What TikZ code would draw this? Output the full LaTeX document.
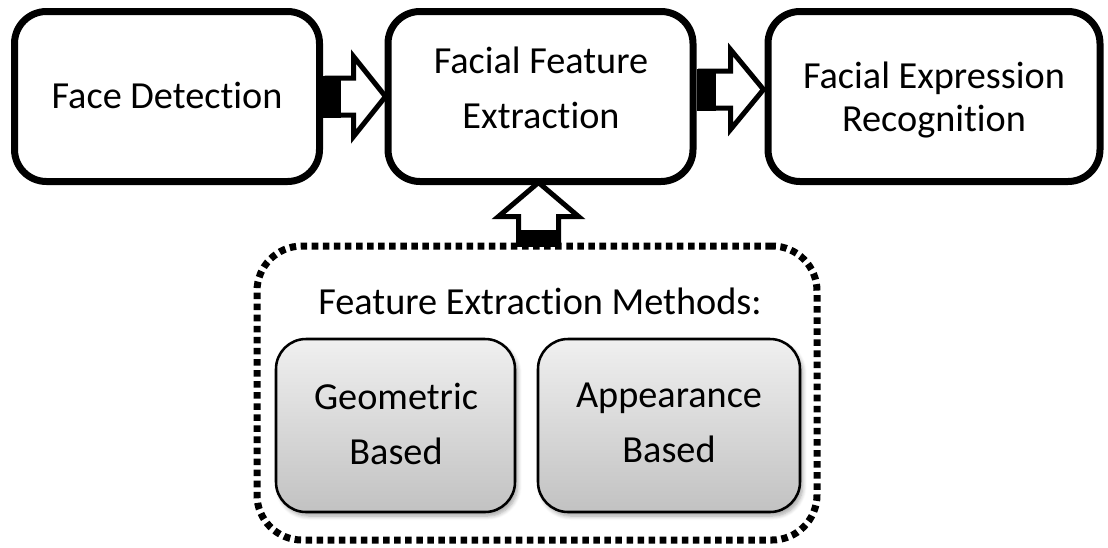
\documentclass[tikz,border=0pt]{standalone}
\usepackage{fontspec}
\setmainfont[Ligatures=NoCommon]{Carlito}
\usetikzlibrary{calc,shadows.blur}
% keep "t" and "i" as separate glyphs
\newcommand\tsep{t\kern0pt{}i}

\begin{document}
\begin{tikzpicture}[x=0.75pt,y=-0.75pt,
  stage/.style={draw=black, line width=5.25pt, rounded corners=24pt,
    fill=white, inner sep=0pt, minimum height=127.5pt},
  method/.style={draw=black, line width=1.9pt, rounded corners=22.5pt,
    top color=gray!12, bottom color=gray!48, inner sep=0pt,
    minimum height=129.75pt,
    blur shadow={shadow xshift=2pt, shadow yshift=-3pt,
      shadow blur steps=6, shadow opacity=35, shadow blur radius=3pt}},
  group/.style={draw=black, line width=5.25pt, rounded corners=33.75pt,
    dash pattern=on 4.9pt off 3.4pt, inner sep=0pt,
    minimum width=420pt, minimum height=220.5pt},
  lbl/.style={align=center, inner sep=0pt,
    font=\fontsize{28.7}{41.25}\selectfont},
  blockarrow/.style={draw=black, fill=white, line width=3.75pt, miter limit=10},
  stub/.style={fill=black}
]
\useasboundingbox (0,0) rectangle (1108,547);

% main pipeline
\node[stage, minimum width=228.75pt] (fd)  at (167,96.5) {};
\node[stage, minimum width=228.75pt] (ffe) at (540.5,96.5) {};
\node[stage, minimum width=249pt]    (fer) at (934,96.5) {};

\node[lbl] (tfd)  at (167,95) {Face Detec\tsep on};
\node[lbl] (tffe) at (541,88) {Facial Feature\\Extrac\tsep on};
\node[lbl, font=\fontsize{28.7}{32.25}\selectfont] (tfer) at (934,100) {Facial Expression\\Recogni\tsep on};

% group of extraction methods
\node[group] (fem) at (537,393) {};
\node[lbl] (tfem) at (540,301) {Feature Extrac\tsep on Methods:};
\node[method, minimum width=179.25pt] (geo) at (395.5,425.5) {};
\node[method, minimum width=196.5pt]  (app) at (669,425.5) {};
\node[lbl] (tgeo) at (396,424) {Geometric\\Based};
\node[lbl] (tapp) at (669,423) {Appearance\\Based};

% arrow: detection -> feature extraction
\coordinate (a1s) at (fd.east);
\coordinate (a1e) at ($(ffe.west |- fd.east)+(1,0)$);
\draw[blockarrow] ($(a1s)+(4,-18.5)$) -- ($(a1e)+(-32,-18.5)$) -- ($(a1e)+(-32,-40)$)
  -- (a1e) -- ($(a1e)+(-32,40)$) -- ($(a1e)+(-32,18.5)$) -- ($(a1s)+(4,18.5)$) -- cycle;
\fill[stub] ($(a1s)+(0,-21)$) rectangle ($(a1s)+(17.5,21)$);

% arrow: feature extraction -> expression recognition
\coordinate (a2s) at ($(ffe.east)+(0,-7)$);
\coordinate (a2e) at ($(fer.west |- a2s)+(-1,0)$);
\draw[blockarrow] ($(a2s)+(4,-18.5)$) -- ($(a2e)+(-33,-18.5)$) -- ($(a2e)+(-33,-40)$)
  -- (a2e) -- ($(a2e)+(-33,40)$) -- ($(a2e)+(-33,18.5)$) -- ($(a2s)+(4,18.5)$) -- cycle;
\fill[stub] ($(a2s)+(0,-21)$) rectangle ($(a2s)+(19,21)$);

% arrow: methods -> feature extraction
\coordinate (a3e) at ($(ffe.south)+(-2,-2.5)$);
\coordinate (a3s) at ($(fem.north -| a3e)+(0,2)$);
\draw[blockarrow] ($(a3s)+(-20,-2)$) -- ($(a3e)+(-20,34)$) -- ($(a3e)+(-40,34)$)
  -- (a3e) -- ($(a3e)+(40,34)$) -- ($(a3e)+(20,34)$) -- ($(a3s)+(20,-2)$) -- cycle;
\fill[stub] ($(a3s)+(-22,-15)$) rectangle ($(a3s)+(22,2)$);
\end{tikzpicture}
\end{document}
